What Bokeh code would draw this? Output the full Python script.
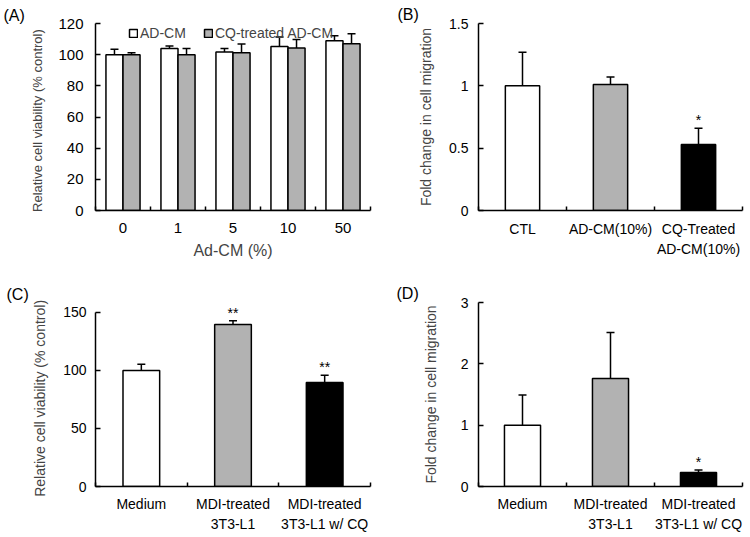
from bokeh.plotting import figure
from bokeh.models import (FixedTicker, Whisker, TeeHead, ColumnDataSource, Legend,
                          LegendItem, LabelSet, CustomJSTickFormatter, Range1d)
from bokeh.layouts import gridplot
from bokeh.embed import file_html
from bokeh.resources import INLINE
from bokeh.core.properties import value

FONT = "Liberation Sans"
WHITE = "#ffffff"
GRAY = "#b2b2b2"
BLACK = "#000000"

# ---- Panel A data ----
a_doses = ["0", "1", "5", "10", "50"]
a_adcm = [100, 104, 101.7, 105.3, 108.9]
a_adcm_err = [3.5, 1.5, 2.3, 6.0, 3.2]
a_cq = [100, 100, 101.3, 104.2, 107]
a_cq_err = [1.3, 4.0, 5.5, 5.6, 6.4]
a_legend = ["AD-CM", "CQ-treated AD-CM"]
a_yticks = [0, 20, 40, 60, 80, 100, 120]

# ---- Panel B data ----
b_groups = ["CTL", "AD-CM(10%)", "CQ-Treated\nAD-CM(10%)"]
b_values = [1.0, 1.01, 0.53]
b_err = [0.27, 0.06, 0.13]
b_sig = ["", "", "*"]
b_yticks = [0, 0.5, 1, 1.5]

# ---- Panel C data ----
c_groups = ["Medium", "MDI-treated\n3T3-L1", "MDI-treated\n3T3-L1 w/ CQ"]
c_values = [100, 139.5, 89.5]
c_err = [5.3, 3.3, 6.3]
c_sig = ["", "**", "**"]
c_yticks = [0, 50, 100, 150]

# ---- Panel D data ----
d_groups = ["Medium", "MDI-treated\n3T3-L1", "MDI-treated\n3T3-L1 w/ CQ"]
d_values = [1.0, 1.76, 0.23]
d_err = [0.49, 0.75, 0.04]
d_sig = ["", "", "*"]
d_yticks = [0, 1, 2, 3]

panel_titles = ["(A)", "(B)", "(C)", "(D)"]
three_colors = [WHITE, GRAY, BLACK]


def base_fig(width, height, left, right, top, bottom, labels, yticks, headroom,
             ytick_size, ylabel, ylabel_size, ylabel_standoff, ytick_standoff,
             xtick_size, xtick_standoff, xline_height, title, title_offset,
             title_standoff, xlabel=None, xlabel_size="16px", xlabel_standoff=6):
    n = len(labels)
    ymax = yticks[-1]
    # headroom: extra pixels of plot frame above the top tick (for stars)
    frame_h = height - top - bottom
    y_end = ymax * frame_h / (frame_h - headroom)
    p = figure(width=width, height=height, output_backend="svg",
               toolbar_location=None, tools="",
               x_range=Range1d(0, n), y_range=Range1d(0, y_end),
               min_border_left=left, min_border_right=right,
               min_border_top=top, min_border_bottom=bottom)
    p.grid.visible = False
    p.outline_line_color = None
    p.background_fill_color = "white"
    p.border_fill_color = "white"

    p.title.text = title
    p.title.align = "left"
    p.title.offset = title_offset
    p.title.standoff = title_standoff
    p.title.text_font = FONT
    p.title.text_font_size = "16px"
    p.title.text_font_style = "normal"
    p.title.text_color = BLACK
    p.title.text_line_height = 0.7

    centers = [i + 0.5 for i in range(n)]
    xa = p.xaxis[0]
    xa.ticker = FixedTicker(ticks=centers, minor_ticks=list(range(n + 1)))
    xa.major_label_overrides = {c: lab for c, lab in zip(centers, labels)}
    xa.major_tick_line_color = None
    xa.minor_tick_in = 4
    xa.minor_tick_out = 0
    xa.minor_tick_line_width = 1.5
    xa.axis_line_width = 1.5
    xa.major_label_text_font = FONT
    xa.major_label_text_font_size = xtick_size
    xa.major_label_standoff = xtick_standoff
    xa.major_label_text_line_height = xline_height
    xa.major_label_text_color = BLACK
    if xlabel:
        xa.axis_label = xlabel
        xa.axis_label_text_font = FONT
        xa.axis_label_text_font_size = xlabel_size
        xa.axis_label_text_font_style = "normal"
        xa.axis_label_standoff = xlabel_standoff

    ya = p.yaxis[0]
    ya.bounds = (0, ymax)
    ya.ticker = FixedTicker(ticks=yticks, minor_ticks=[])
    ya.formatter = CustomJSTickFormatter(code="return String(tick)")
    ya.major_tick_in = 5
    ya.major_tick_out = 0
    ya.major_tick_line_width = 1.5
    ya.minor_tick_line_color = None
    ya.axis_line_width = 1.5
    ya.major_label_text_font = FONT
    ya.major_label_text_font_size = ytick_size
    ya.major_label_standoff = ytick_standoff
    ya.major_label_text_color = BLACK
    ya.axis_label = ylabel
    ya.axis_label_text_font = FONT
    ya.axis_label_text_font_size = ylabel_size
    ya.axis_label_text_font_style = "normal"
    ya.axis_label_standoff = ylabel_standoff
    return p


def add_err(p, xs, tops, errs):
    src = ColumnDataSource(dict(x=xs, lower=tops,
                                upper=[t + e for t, e in zip(tops, errs)]))
    w = Whisker(base="x", lower="lower", upper="upper", source=src,
                dimension="height", line_width=1.5, line_color=BLACK,
                lower_head=None,
                upper_head=TeeHead(size=8, line_width=1.5, line_color=BLACK),
                level="overlay")
    p.add_layout(w)


def add_stars(p, xs, tops, errs, sig):
    src = ColumnDataSource(dict(x=xs, y=[t + e for t, e in zip(tops, errs)],
                                t=sig))
    ls = LabelSet(x="x", y="y", text="t", source=src, text_align="center",
                  text_baseline="bottom", y_offset=0, text_font=value(FONT),
                  text_font_size=value("14px"), text_color=BLACK)
    p.add_layout(ls)


# ---------------- Panel A ----------------
pA = base_fig(375, 268, 95, 5, 22, 58, a_doses, a_yticks, 0, "15px",
              "Relative  cell viability  (% control)", "13px", 10, 12,
              "15px", 6, 1.2, panel_titles[0], -92, 0,
              xlabel="Ad-CM (%)", xlabel_size="16px", xlabel_standoff=6)
bw = 0.31
xs_w = [i + 0.5 - bw / 2 for i in range(len(a_doses))]
xs_g = [i + 0.5 + bw / 2 for i in range(len(a_doses))]
r1 = pA.vbar(x=xs_w, top=a_adcm, width=bw, bottom=0, fill_color=WHITE,
             line_color=BLACK, line_width=1.5)
r2 = pA.vbar(x=xs_g, top=a_cq, width=bw, bottom=0, fill_color=GRAY,
             line_color=BLACK, line_width=1.5)
add_err(pA, xs_w, a_adcm, a_adcm_err)
add_err(pA, xs_g, a_cq, a_cq_err)
leg = Legend(items=[LegendItem(label=a_legend[0], renderers=[r1]),
                    LegendItem(label=a_legend[1], renderers=[r2])],
             orientation="horizontal", location=(33, 169), padding=0,
             margin=0, spacing=17, glyph_width=10, glyph_height=10,
             label_height=16, label_standoff=2, label_text_font=FONT,
             label_text_font_size="14px", border_line_color=None,
             background_fill_alpha=0)
pA.add_layout(leg)

# ---------------- Panel B ----------------
pB = base_fig(374, 268, 103, 7, 23, 57, b_groups, b_yticks, 0, "14px",
              "Fold change in cell migration", "14px", 12, 10,
              "14px", 4, 1.3, panel_titles[1], -81, 2)
xs = [i + 0.5 for i in range(len(b_groups))]
pB.vbar(x=xs, top=b_values, width=0.39, bottom=0, fill_color=three_colors,
        line_color=BLACK, line_width=1.5)
add_err(pB, xs, b_values, b_err)
add_stars(pB, xs, b_values, b_err, b_sig)

# ---------------- Panel C ----------------
pC = base_fig(375, 268, 91, 5, 32, 50, c_groups, c_yticks, 10, "14px",
              "Relative  cell viability  (% control)", "14px", 12, 9,
              "14px", 3, 1.3, panel_titles[2], -89, 0)
xs = [i + 0.5 for i in range(len(c_groups))]
pC.vbar(x=xs, top=c_values, width=0.4, bottom=0, fill_color=three_colors,
        line_color=BLACK, line_width=1.5)
add_err(pC, xs, c_values, c_err)
add_stars(pC, xs, c_values, c_err, c_sig)

# ---------------- Panel D ----------------
pD = base_fig(374, 268, 102, 7, 34, 50, d_groups, d_yticks, 0, "14px",
              "Fold change in cell migration", "14px", 19, 10,
              "14px", 3, 1.3, panel_titles[3], -82, 2)
xs = [i + 0.5 for i in range(len(d_groups))]
pD.vbar(x=xs, top=d_values, width=0.41, bottom=0, fill_color=three_colors,
        line_color=BLACK, line_width=1.5)
add_err(pD, xs, d_values, d_err)
add_stars(pD, xs, d_values, d_err, d_sig)

grid = gridplot([[pA, pB], [pC, pD]], toolbar_location=None)

open("out.html", "w").write(file_html(grid, INLINE))
